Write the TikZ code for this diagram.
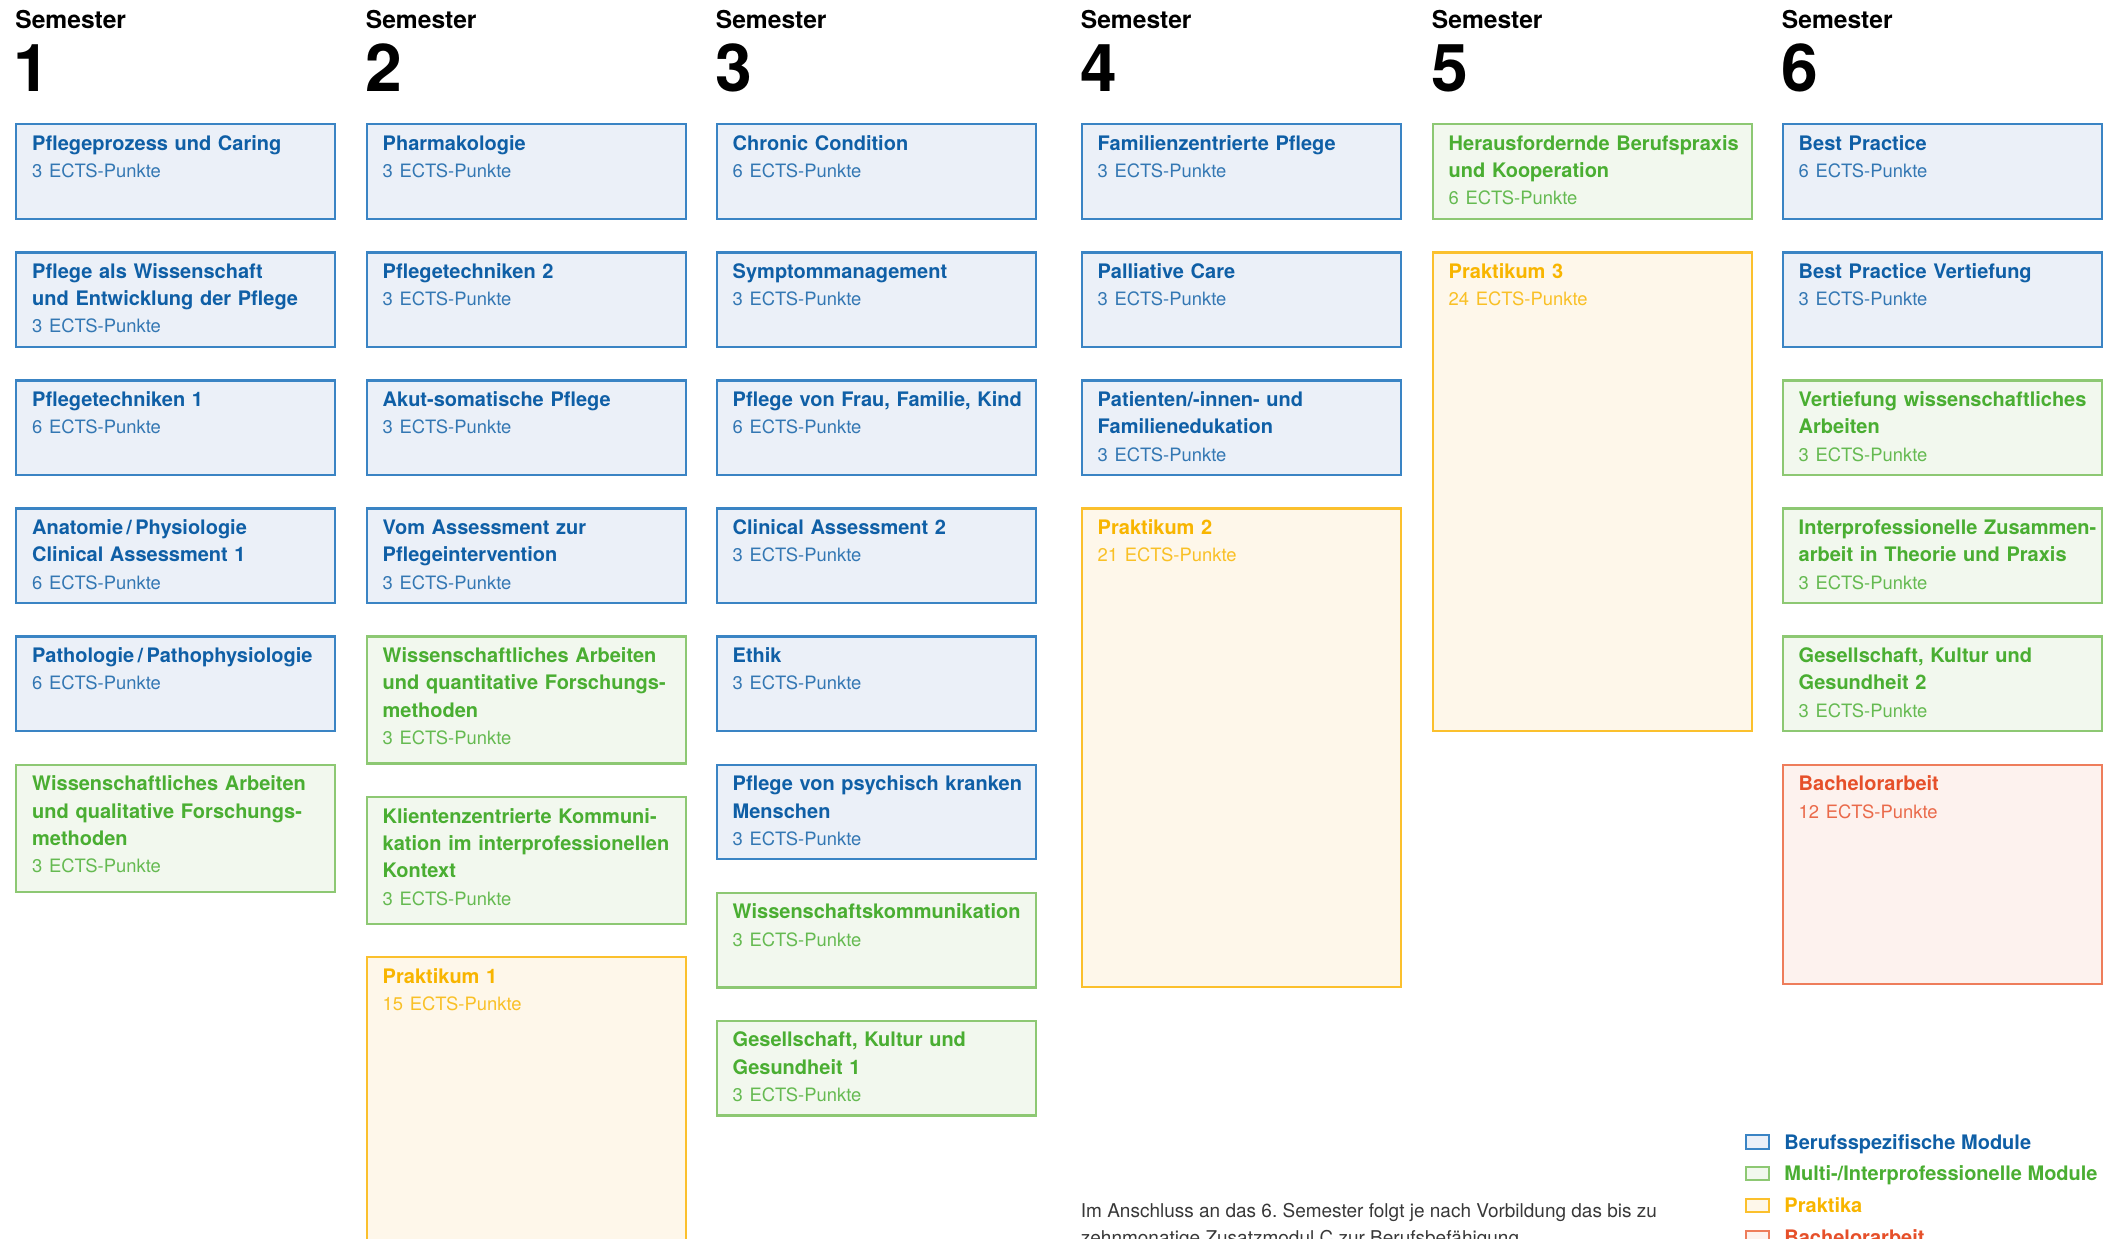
\documentclass[tikz,border=0pt]{standalone}
\usepackage{fontspec}
\setmainfont{TeX Gyre Heros}

\definecolor{blauRand}{HTML}{3A84C4}
\definecolor{blauFlaeche}{HTML}{EBF0F8}
\definecolor{blauText}{HTML}{0F5FA6}
\definecolor{gruenRand}{HTML}{8DC873}
\definecolor{gruenFlaeche}{HTML}{F2F8EE}
\definecolor{gruenText}{HTML}{4AAE32}
\definecolor{gelbRand}{HTML}{FBC02D}
\definecolor{gelbFlaeche}{HTML}{FEF7EA}
\definecolor{gelbText}{HTML}{F8B500}
\definecolor{rotRand}{HTML}{EE7D5B}
\definecolor{rotFlaeche}{HTML}{FDF2EE}
\definecolor{rotText}{HTML}{E6502A}

\newcommand{\ects}[1]{{\mdseries\fontsize{9.2}{13.65}\selectfont\color{.!85!white}#1}}

\tikzset{
  modul/.style={draw, line width=1.2pt, anchor=north west, inner xsep=2.75pt, inner ysep=0pt,
    text width=154pt, align=left, text height=13pt, text depth=34.25pt,
    execute at begin node={\leftskip=5.25pt},
    font=\bfseries\fontsize{10}{13.65}\selectfont},
  hoch/.style={text depth=50.5pt},
  blau/.style={modul, draw=blauRand, fill=blauFlaeche, text=blauText},
  gruen/.style={modul, draw=gruenRand, fill=gruenFlaeche, text=gruenText},
  gelb/.style={modul, draw=gelbRand, fill=gelbFlaeche, text=gelbText},
  rot/.style={modul, draw=rotRand, fill=rotFlaeche, text=rotText},
  semtitel/.style={anchor=base west, inner sep=0pt, font=\bfseries\fontsize{12.3}{14}\selectfont},
  semnr/.style={anchor=base west, inner sep=0pt, font=\bfseries\fontsize{33}{36}\selectfont},
  legkasten/.style={minimum width=11.8pt, minimum height=6.65pt, inner sep=0pt, line width=1pt},
  legtext/.style={anchor=base west, inner sep=0pt, font=\bfseries\fontsize{10}{12}\selectfont},
  anmerkung/.style={anchor=base west, inner sep=0pt, text=black!78, font=\fontsize{9.5}{12}\selectfont}
}

\begin{document}
\begin{tikzpicture}[x=0.5pt, y=-0.5pt]
    \useasboundingbox (0,0) rectangle (2115,1238);

    % Kopfzeile
    \node[semtitel] (s1) at (15,28) {Semester};
    \node[semtitel] (s2) at (365.5,28) {Semester};
    \node[semtitel] (s3) at (715.5,28) {Semester};
    \node[semtitel] (s4) at (1080.5,28) {Semester};
    \node[semtitel] (s5) at (1431.5,28) {Semester};
    \node[semtitel] (s6) at (1781.5,28) {Semester};
    \node[semnr] (n1) at (13,91) {1};
    \node[semnr] (n2) at (365.5,91) {2};
    \node[semnr] (n3) at (715.5,91) {3};
    \node[semnr] (n4) at (1080.5,91) {4};
    \node[semnr] (n5) at (1431.5,91) {5};
    \node[semnr] (n6) at (1781.5,91) {6};

    % Semester 1
    \node[blau] (m11) at (15,123) {Pflegeprozess und Caring\\\ects{3 ECTS-Punkte}};
    \node[blau] (m12) at (15,251.1) {Pflege als Wissenschaft\\und Entwicklung der Pflege\\\ects{3 ECTS-Punkte}};
    \node[blau] (m13) at (15,379.2) {Pflegetechniken 1\\\ects{6 ECTS-Punkte}};
    \node[blau] (m14) at (15,507.3) {Anatomie\,/\,Physiologie\\Clinical Assessment 1\\\ects{6 ECTS-Punkte}};
    \node[blau] (m15) at (15,635.4) {Pathologie\,/\,Pathophysiologie\\\ects{6 ECTS-Punkte}};
    \node[gruen, hoch] (m16) at (15,763.5) {Wissenschaftliches Arbeiten\\und qualitative Forschungs-\\methoden\\\ects{3 ECTS-Punkte}};

    % Semester 2
    \node[blau] (m21) at (365.5,123) {Pharmakologie\\\ects{3 ECTS-Punkte}};
    \node[blau] (m22) at (365.5,251.1) {Pflegetechniken 2\\\ects{3 ECTS-Punkte}};
    \node[blau] (m23) at (365.5,379.2) {Akut-somatische Pflege\\\ects{3 ECTS-Punkte}};
    \node[blau] (m24) at (365.5,507.3) {Vom Assessment zur\\Pflegeintervention\\\ects{3 ECTS-Punkte}};
    \node[gruen, hoch] (m25) at (365.5,635.4) {Wissenschaftliches Arbeiten\\und quantitative Forschungs-\\methoden\\\ects{3 ECTS-Punkte}};
    \node[gruen, hoch] (m26) at (365.5,796) {Klientenzentrierte Kommuni-\\kation im interprofessionellen\\Kontext\\\ects{3 ECTS-Punkte}};
    \node[gelb, text depth=180pt] (m27) at (365.5,956) {Praktikum 1\\\ects{15 ECTS-Punkte}};

    % Semester 3
    \node[blau] (m31) at (715.5,123) {Chronic Condition\\\ects{6 ECTS-Punkte}};
    \node[blau] (m32) at (715.5,251.1) {Symptommanagement\\\ects{3 ECTS-Punkte}};
    \node[blau] (m33) at (715.5,379.2) {Pflege von Frau, Familie, Kind\\\ects{6 ECTS-Punkte}};
    \node[blau] (m34) at (715.5,507.3) {Clinical Assessment 2\\\ects{3 ECTS-Punkte}};
    \node[blau] (m35) at (715.5,635.4) {Ethik\\\ects{3 ECTS-Punkte}};
    \node[blau] (m36) at (715.5,763.5) {Pflege von psychisch kranken\\Menschen\\\ects{3 ECTS-Punkte}};
    \node[gruen] (m37) at (715.5,891.6) {Wissenschaftskommunikation\\\ects{3 ECTS-Punkte}};
    \node[gruen] (m38) at (715.5,1019.7) {Gesellschaft, Kultur und\\Gesundheit 1\\\ects{3 ECTS-Punkte}};

    % Semester 4
    \node[blau] (m41) at (1080.5,123) {Familienzentrierte Pflege\\\ects{3 ECTS-Punkte}};
    \node[blau] (m42) at (1080.5,251.1) {Palliative Care\\\ects{3 ECTS-Punkte}};
    \node[blau] (m43) at (1080.5,379.2) {Patienten/-innen- und\\Familienedukation\\\ects{3 ECTS-Punkte}};
    \node[gelb, text depth=226.35pt] (m44) at (1080.5,507.3) {Praktikum 2\\\ects{21 ECTS-Punkte}};

    % Semester 5
    \node[gruen] (m51) at (1431.5,123) {Herausfordernde Berufspraxis\\und Kooperation\\\ects{6 ECTS-Punkte}};
    \node[gelb, text depth=226.35pt] (m52) at (1431.5,251.1) {Praktikum 3\\\ects{24 ECTS-Punkte}};

    % Semester 6
    \node[blau] (m61) at (1781.5,123) {Best Practice\\\ects{6 ECTS-Punkte}};
    \node[blau] (m62) at (1781.5,251.1) {Best Practice Vertiefung\\\ects{3 ECTS-Punkte}};
    \node[gruen] (m63) at (1781.5,379.2) {Vertiefung wissenschaftliches\\Arbeiten\\\ects{3 ECTS-Punkte}};
    \node[gruen] (m64) at (1781.5,507.3) {\mbox{Interprofessionelle Zusammen-}\\arbeit in Theorie und Praxis\\\ects{3 ECTS-Punkte}};
    \node[gruen] (m65) at (1781.5,635.4) {Gesellschaft, Kultur und\\Gesundheit 2\\\ects{3 ECTS-Punkte}};
    \node[rot, text depth=96.75pt] (m66) at (1781.5,763.5) {Bachelorarbeit\\\ects{12 ECTS-Punkte}};

    % Anmerkung
    \node[anmerkung] (anm1) at (1080.5,1217) {Im Anschluss an das 6.\ Semester folgt je nach Vorbildung das bis zu};
    \node[anmerkung] (anm2) at (1080.5,1244) {zehnmonatige Zusatzmodul C zur Berufsbefähigung};

    % Legende
    \node[legkasten, draw=blauRand, fill=blauFlaeche] (lg1) at (1757.5,1142) {};
    \node[legkasten, draw=gruenRand, fill=gruenFlaeche] (lg2) at (1757.5,1173.8) {};
    \node[legkasten, draw=gelbRand, fill=gelbFlaeche] (lg3) at (1757.5,1205.6) {};
    \node[legkasten, draw=rotRand, fill=rotFlaeche] (lg4) at (1757.5,1237.4) {};
    \node[legtext, text=blauText] (lt1) at (1784,1149) {Berufsspezifische Module};
    \node[legtext, text=gruenText] (lt2) at (1784,1180.8) {Multi-/Interprofessionelle Module};
    \node[legtext, text=gelbText] (lt3) at (1784,1212.6) {Praktika};
    \node[legtext, text=rotText] (lt4) at (1784,1244.4) {Bachelorarbeit};
\end{tikzpicture}
\end{document}
